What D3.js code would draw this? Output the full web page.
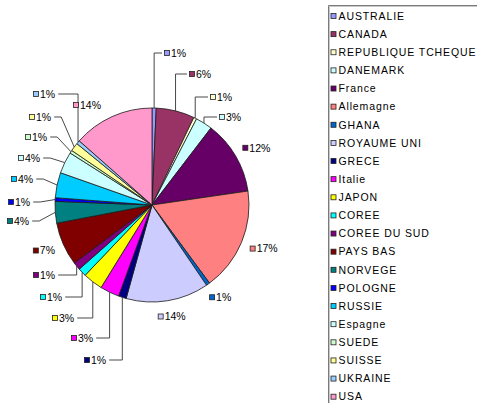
<!DOCTYPE html>
<html lang="fr">
<head>
<meta charset="utf-8">
<title>Pie</title>
<script src="https://d3js.org/d3.v7.min.js"></script>
<style>
  body { margin: 0; background: #fff; }
  text { font-family: "Liberation Sans", Arial, sans-serif; fill: #000; }
</style>
</head>
<body>
<div id="chart"></div>
<script>
const countries = ["AUSTRALIE", "CANADA", "REPUBLIQUE TCHEQUE", "DANEMARK", "France", "Allemagne",
  "GHANA", "ROYAUME UNI", "GRECE", "Italie", "JAPON", "COREE", "COREE DU SUD", "PAYS BAS",
  "NORVEGE", "POLOGNE", "RUSSIE", "Espagne", "SUEDE", "SUISSE", "UKRAINE", "USA"];
const shares = [0.7, 6.4, 0.5, 2.8, 12.3, 17.2, 0.6, 13.8, 1.3, 3.2, 3.3, 1.4, 1.3, 7.2,
  3.6, 0.6, 4.2, 3.6, 0.5, 1.4, 0.6, 13.5];
const pctLabels = ["1%", "6%", "1%", "3%", "12%", "17%", "1%", "14%", "1%", "3%", "3%", "1%", "1%", "7%",
  "4%", "1%", "4%", "4%", "1%", "1%", "1%", "14%"];
const colors = ["#9999FF", "#993366", "#FFFFCC", "#CCFFFF", "#660066", "#FF8080", "#0066CC", "#CCCCFF",
  "#000080", "#FF00FF", "#FFFF00", "#00FFFF", "#800080", "#800000", "#008080", "#0000FF", "#00CCFF",
  "#CCFFFF", "#CCFFCC", "#FFFF99", "#99CCFF", "#FF99CC"];

// labels that were dragged away from the pie (marker left x, centre y, leader line?)
const movedLabels = {
  "AUSTRALIE": [164, 53, true], "CANADA": [189, 74, true], "REPUBLIQUE TCHEQUE": [210, 97, true],
  "DANEMARK": [219, 117, true], "GRECE": [84, 360, true], "Italie": [71, 338, true],
  "JAPON": [52, 318, true], "COREE": [40, 297, true], "COREE DU SUD": [33, 275, true],
  "NORVEGE": [7, 221, true], "POLOGNE": [8, 202, true], "RUSSIE": [11, 179, true],
  "Espagne": [18, 158, true], "SUEDE": [25, 137, true], "SUISSE": [29, 117, true],
  "UKRAINE": [33, 94, true], "USA": [73, 105, false]
};

const width = 481, height = 403;
const cx = 152, cy = 205, radius = 97;

const svg = d3.select("#chart").append("svg")
  .attr("width", width)
  .attr("height", height);

const data = countries.map((c, i) => ({ name: c, value: shares[i], label: pctLabels[i], color: colors[i] }));

const pie = d3.pie().sort(null).value(d => d.value);
const arcs = pie(data);
const arc = d3.arc().innerRadius(0).outerRadius(radius);

const g = svg.append("g").attr("transform", `translate(${cx},${cy})`);

g.selectAll("path.slice")
  .data(arcs)
  .enter()
  .append("path")
  .attr("class", "slice")
  .attr("d", arc)
  .attr("fill", d => d.data.color)
  .attr("stroke", "#1a1a1a")
  .attr("stroke-width", 0.8)
  .attr("stroke-linejoin", "round");

// data labels
const labels = svg.append("g");
arcs.forEach(a => {
  const mid = (a.startAngle + a.endAngle) / 2;
  const s = Math.sin(mid), c = Math.cos(mid);
  const lg = labels.append("g");
  const t = lg.append("text")
    .attr("font-size", "10.5px")
    .attr("dy", "0.36em")
    .text(a.data.label);
  const tw = t.node().getComputedTextLength();
  const w = 7 + tw;
  let mx, my;
  const moved = movedLabels[a.data.name];
  if (moved) {
    mx = moved[0]; my = moved[1];
  } else {
    const ax = cx + (radius + 10) * s, ay = cy - (radius + 10) * c;
    mx = ax + (w / 2) * s - w / 2;
    my = ay - 6 * c;
  }
  lg.insert("rect", "text")
    .attr("x", mx + 0.5).attr("y", my - 2.5)
    .attr("width", 5).attr("height", 5)
    .attr("fill", a.data.color)
    .attr("stroke", "#222")
    .attr("stroke-width", 0.8);
  t.attr("x", mx + 7).attr("y", my);

  if (moved && moved[2]) {
    const px = cx + radius * s, py = cy - radius * c;
    let sx, dir;
    if (mx + w < px) { sx = mx + w + 3; dir = 1; } else { sx = mx - 2; dir = -1; }
    const ex = Math.abs(px - sx) < 20 ? px : sx + dir * 7;
    labels.append("path")
      .attr("d", d3.line()([[sx, my], [ex, my], [px, py]]))
      .attr("fill", "none")
      .attr("stroke", "#333")
      .attr("stroke-width", 0.9);
  }
});

// legend
const legend = svg.append("g");
legend.append("path")
  .attr("d", "M328.5,410V5.5H477")
  .attr("fill", "none")
  .attr("stroke", "#7a7a7a")
  .attr("stroke-width", 1);
legend.append("path")
  .attr("d", "M329.5,410V6.5H477")
  .attr("fill", "none")
  .attr("stroke", "#c8c8c8")
  .attr("stroke-width", 1);

const ly = d3.scalePoint().domain(countries).range([16, 396.7]);

const items = legend.selectAll("g.item")
  .data(data)
  .enter()
  .append("g")
  .attr("class", "item")
  .attr("transform", d => `translate(0,${ly(d.name)})`);

items.append("rect")
  .attr("x", 331).attr("y", -2.5)
  .attr("width", 5).attr("height", 5)
  .attr("fill", d => d.color)
  .attr("stroke", "#222")
  .attr("stroke-width", 0.8);

items.append("text")
  .attr("x", 338.5)
  .attr("dy", "0.36em")
  .attr("font-size", "10.5px")
  .attr("letter-spacing", "0.9px")
  .text(d => d.name);
</script>
</body>
</html>
